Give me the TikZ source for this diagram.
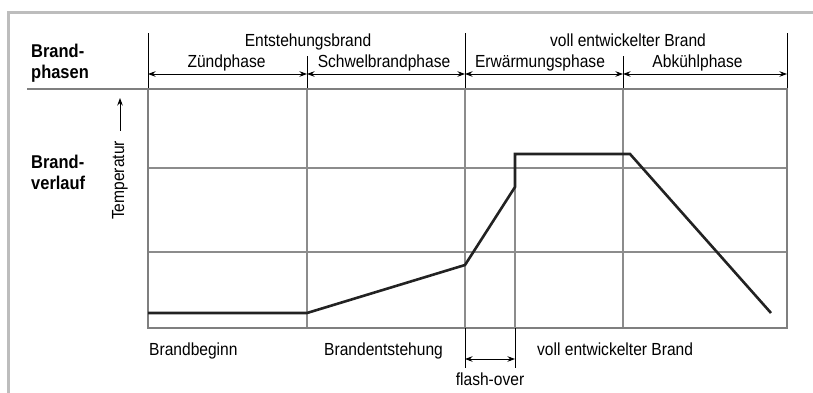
\documentclass[tikz,border=0pt]{standalone}
\usepackage{fontspec}
\setmainfont{Liberation Sans}[FakeStretch=0.89]
\usepackage{xcolor}
\usepackage{tikz}
\usetikzlibrary{arrows.meta,positioning}

\definecolor{framegray}{HTML}{BDBDBD}
\definecolor{plotgray}{HTML}{7F7F7F}
\definecolor{gridgray}{HTML}{8C8C8C}
\definecolor{fireblack}{HTML}{222222}

\begin{document}
\begin{tikzpicture}[x=1pt, y=-1pt,
  font=\fontsize{17.5}{19}\selectfont,
  txt/.style={inner sep=0pt, anchor=base},
  sidehead/.style={inner sep=0pt, anchor=north west, align=left, font=\fontsize{18.5}{21}\selectfont\bfseries},
  tickline/.style={black, line width=0.8pt},
  dimarrow/.style={tickline, {Stealth[length=7.5pt,width=5.5pt]}-{Stealth[length=7.5pt,width=5.5pt]}},
  gridline/.style={gridgray, line width=1.1pt},
  fireline/.style={fireblack, line width=2.6pt, line join=miter}]
  \useasboundingbox (0,0) rectangle (813,393);

  % outer frame
  \draw[framegray, line width=3pt] (8,393) -- (8,12.5) -- (813,12.5);

  % row heads
  \node[sidehead] (phasen) at (31,43.5) {Brand-\\phasen};
  \node[sidehead] (verlauf) at (31,154.5) {Brand-\\verlauf};

  % plot corners and phase borders
  \coordinate (p0) at (148,89);
  \coordinate (p1) at (307,89);
  \coordinate (p2) at (465,89);
  \coordinate (p3) at (623,89);
  \coordinate (p4) at (787,89);
  \coordinate (q0) at (148,328);
  \coordinate (q4) at (787,328);

  % grid
  \draw[gridline] (148,168) -- (787,168);
  \draw[gridline] (148,252) -- (787,252);
  \foreach \i/\x in {1/307, 2/465, 3/623}
    \draw[gridline] (p\i) -- (\x,328);

  % ticks above the plot
  \draw[tickline] (p0) -- (148,33);
  \draw[tickline] (p1) -- (307,56);
  \draw[tickline] (p2) -- (465,33);
  \draw[tickline] (p3) -- (623,56);
  \draw[tickline] (p4) -- (787,33);

  \coordinate (a0) at (148,74);
  \coordinate (a1) at (307,74);
  \coordinate (a2) at (465,74);
  \coordinate (a3) at (623,74);
  \coordinate (a4) at (787,74);
  \draw[dimarrow] (a0) -- (a1);
  \draw[dimarrow] (a1) -- (a2);
  \draw[dimarrow] (a2) -- (a3);
  \draw[dimarrow] (a3) -- (a4);

  \node[txt] (entst) at (308,47) {Entstehungsbrand};
  \node[txt] (voll) at (628,47) {voll entwickelter Brand};
  \node[txt] (zuend) at (226.5,68) {Zündphase};
  \node[txt] (schwel) at (384,68) {Schwelbrandphase};
  \node[txt] (erw) at (540,68) {Erwärmungsphase};
  \node[txt] (abk) at (697.5,68) {Abkühlphase};

  % separator and plot frame
  \draw[plotgray, line width=2pt] (27,89) -- (p0);
  \draw[plotgray, line width=2.5pt] (p0) rectangle (q4);

  % temperature axis
  \node[rotate=90, inner sep=0pt] (temp) at (120,180.5) {Temperatur};
  \coordinate (tempTip) at (120,98);
  \draw[tickline, -{Stealth[length=7.5pt,width=5.5pt]}] ([yshift=10pt]temp.east) -- (tempTip);

  % flash-over marks
  \coordinate (f0) at (465,368);
  \coordinate (f1) at (515,368);
  \coordinate (top) at (515,154);
  \draw[gridline] (top) -- (515,328);
  \draw[tickline] (q0 -| f0) -- (f0);
  \draw[tickline] (q0 -| f1) -- (f1);
  \draw[dimarrow] (465,359) -- (515,359);

  % fire curve
  \draw[fireline] (148,313) -- (307,313) -- (465,265) -- (515,187) -- (top) -- (630,154) -- (771,313);

  % bottom labels
  \node[txt, anchor=base west] (beginn) at (149,355) {Brandbeginn};
  \node[txt, anchor=base west] (entstehung) at (324,355) {Brandentstehung};
  \node[txt, anchor=base west] (entwickelt) at (537,355) {voll entwickelter Brand};
  \node[txt] (flash) at (490,385) {flash-over};
\end{tikzpicture}
\end{document}
